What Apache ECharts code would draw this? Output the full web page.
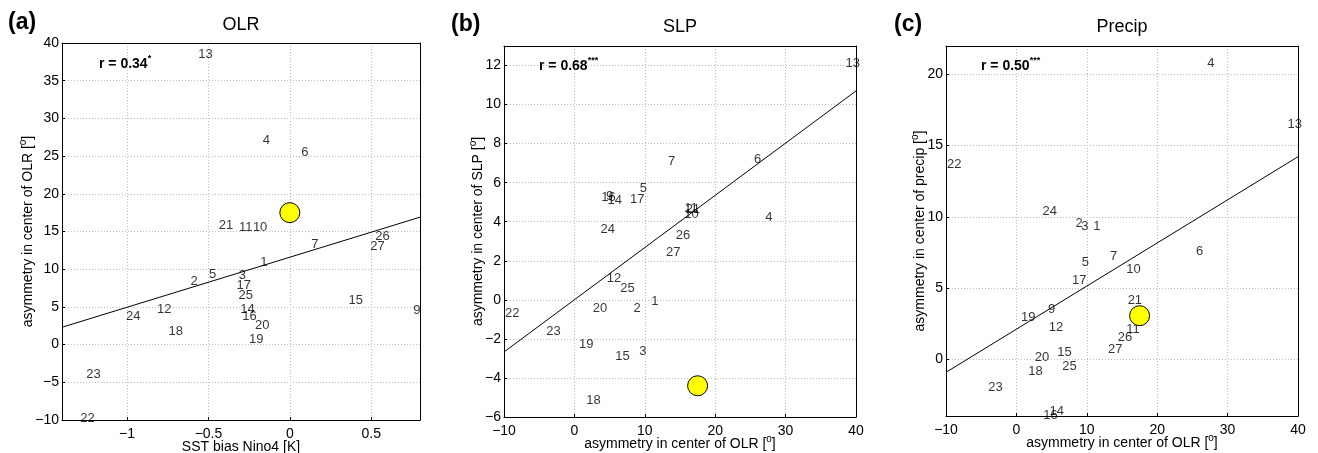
<!DOCTYPE html>
<html>
<head>
<meta charset="utf-8">
<script src="https://cdn.jsdelivr.net/npm/echarts@6/dist/echarts.min.js"></script>
<style>
  html, body { margin: 0; padding: 0; background: #fff; }
  #chart { width: 1318px; height: 453px; }
</style>
</head>
<body>
<div id="chart"></div>
<script>
// Ensemble members (there is no model 8)
const models = [1, 2, 3, 4, 5, 6, 7, 9, 10, 11, 12, 13, 14, 15, 16, 17, 18, 19, 20, 21, 22, 23, 24, 25, 26, 27];

// SST bias in the Nino4 region [K]
const sstBiasNino4 = [-0.181, -0.61, -0.314, -0.167, -0.496, 0.07, 0.131, 0.759, -0.227, -0.312, -0.816, -0.563, -0.304,
                      0.361, -0.292, -0.328, -0.745, -0.251, -0.214, -0.437, -1.288, -1.251, -1.006, -0.316, 0.525, 0.494];

// Asymmetry in the centre of OLR [deg]
const olrAsym = [10.9, 8.4, 9.2, 27.1, 9.3, 25.5, 13.3, 4.5, 15.6, 15.6, 4.6, 38.5, 4.7,
                 5.8, 3.8, 7.9, 1.7, 0.65, 2.6, 15.8, -9.85, -4.0, 3.7, 6.5, 14.4, 13.0];

// Asymmetry in the centre of SLP [deg]
const slpAsym = [-0.06, -0.42, -2.65, 4.24, 5.73, 7.2, 7.08, 5.3, 4.4, 4.7, 1.12, 12.13, 5.1,
                 -2.88, 5.24, 5.15, -5.13, -2.26, -0.42, 4.65, -0.68, -1.6, 3.62, 0.6, 3.32, 2.45];

// Asymmetry in the centre of precipitation [deg]
const precipAsym = [9.3, 9.5, 9.3, 20.8, 6.8, 7.6, 7.2, 3.5, 6.3, 2.1, 2.2, 16.5, -3.7,
                    0.5, -3.93, 5.5, -0.84, 2.95, 0.14, 4.1, 13.7, -2.0, 10.4, -0.53, 1.5, 0.66];

// Observations
const obsSst = 0.0;
const obsOlr = 17.5;
const obsSlp = -4.4;
const obsPrecip = 3.05;

// Correlation coefficients and significance marks
const corrR = ['0.34', '0.68', '0.50'];
const corrSig = ['*', '***', '***'];

// Least-squares lines, drawn across each axis range
const fitOlr = [[-1.4, 2.3], [0.8, 16.9]];
const fitSlp = [[-10, -2.67], [40, 10.7]];
const fitPrecip = [[-10, -0.93], [40, 14.22]];

// Tick values
const ticksSst = [-1, -0.5, 0, 0.5];
const ticksOlrY = [-10, -5, 0, 5, 10, 15, 20, 25, 30, 35, 40];
const ticksOlrX = [-10, 0, 10, 20, 30, 40];
const ticksSlp = [-6, -4, -2, 0, 2, 4, 6, 8, 10, 12];
const ticksPrecip = [0, 5, 10, 15, 20];

const FONT = '"Liberation Sans", Arial, Helvetica, sans-serif';
const INK = '#000';
const fmt = v => String(v).replace('-', '\u2212');
const supRich = { sup: { fontSize: 10, fontFamily: FONT, color: INK, verticalAlign: 'top' } };

const panels = [
  {
    letter: '(a)', title: 'OLR',
    grid: { left: 62, top: 43, width: 358, height: 377 },
    x: sstBiasNino4, y: olrAsym, obs: [obsSst, obsOlr], fit: fitOlr,
    xr: [-1.4, 0.8], yr: [-10, 40], xt: ticksSst, yt: ticksOlrY,
    xName: 'SST bias Nino4 [K]', yName: 'asymmetry in center of OLR [{sup|o}]', yGap: 24,
    letterPos: [8, 23], titlePos: [241, 25], rPos: [99, 64]
  },
  {
    letter: '(b)', title: 'SLP',
    grid: { left: 504, top: 46, width: 352, height: 371 },
    x: olrAsym, y: slpAsym, obs: [obsOlr, obsSlp], fit: fitSlp,
    xr: [-10, 40], yr: [-6, 13], xt: ticksOlrX, yt: ticksSlp,
    xName: 'asymmetry in center of OLR [{sup|o}]', yName: 'asymmetry in center of SLP [{sup|o}]', yGap: 16,
    letterPos: [451, 25], titlePos: [680, 27], rPos: [539, 66]
  },
  {
    letter: '(c)', title: 'Precip',
    grid: { left: 946, top: 46, width: 352, height: 370 },
    x: olrAsym, y: precipAsym, obs: [obsOlr, obsPrecip], fit: fitPrecip,
    xr: [-10, 40], yr: [-4, 22], xt: ticksOlrX, yt: ticksPrecip,
    xName: 'asymmetry in center of OLR [{sup|o}]', yName: 'asymmetry in center of precip [{sup|o}]', yGap: 16,
    letterPos: [894, 25], titlePos: [1122, 27], rPos: [981, 66]
  }
];

const grids = [], xAxes = [], yAxes = [], series = [], graphics = [];

function mainAxis(gi, pos, range, ticks, name, gap, labelMargin) {
  return {
    type: 'value', gridIndex: gi, position: pos, min: range[0], max: range[1],
    axisLine: { show: true, onZero: false, lineStyle: { color: INK, width: 1 } },
    axisTick: { show: true, inside: true, length: 3, customValues: ticks, lineStyle: { color: INK, width: 1 } },
    axisLabel: { customValues: ticks, formatter: fmt, color: INK, fontSize: 14, fontFamily: FONT, margin: labelMargin },
    splitLine: { show: true, lineStyle: { color: '#bdbdbd', width: 1, type: [1, 2] } },
    name: name, nameLocation: 'middle', nameGap: gap, nameMoveOverlap: false,
    nameTextStyle: { color: INK, fontSize: 14, fontFamily: FONT, lineHeight: 20, rich: supRich }
  };
}
function frameAxis(gi, pos, range) {
  return {
    type: 'value', gridIndex: gi, position: pos, min: range[0], max: range[1],
    axisLine: { show: true, onZero: false, lineStyle: { color: INK, width: 1 } },
    axisTick: { show: false }, axisLabel: { show: false }, splitLine: { show: false }
  };
}

panels.forEach((p, i) => {
  grids.push(Object.assign({ containLabel: false, outerBoundsMode: 'none' }, p.grid));
  xAxes.push(mainAxis(i, 'bottom', p.xr, p.xt, p.xName, 17, 7));
  xAxes.push(frameAxis(i, 'top', p.xr));
  yAxes.push(mainAxis(i, 'left', p.yr, p.yt, p.yName, p.yGap, 3));
  yAxes.push(frameAxis(i, 'right', p.yr));

  const xi = 2 * i, yi = 2 * i;

  series.push({
    type: 'line', xAxisIndex: xi, yAxisIndex: yi, data: p.fit,
    showSymbol: false, symbol: 'none', silent: true, z: 2,
    lineStyle: { color: INK, width: 1 }
  });

  series.push({
    type: 'scatter', xAxisIndex: xi, yAxisIndex: yi, z: 3, silent: true,
    symbolSize: 0, itemStyle: { color: INK },
    label: {
      show: true, position: 'right', distance: 0, formatter: d => d.name,
      color: INK, fontSize: 13, fontFamily: FONT
    },
    data: models.map((m, k) => ({ name: String(m), value: [p.x[k], p.y[k]] }))
  });

  series.push({
    type: 'scatter', xAxisIndex: xi, yAxisIndex: yi, z: 4, silent: true,
    symbolSize: 20, itemStyle: { color: '#ffff00', borderColor: INK, borderWidth: 1, opacity: 1 },
    data: [p.obs]
  });

  graphics.push({
    type: 'text', x: p.letterPos[0], y: p.letterPos[1],
    style: { text: p.letter, fill: INK, fontSize: 23, fontWeight: 'bold', fontFamily: FONT, align: 'left', verticalAlign: 'middle' }
  });
  graphics.push({
    type: 'text', x: p.titlePos[0], y: p.titlePos[1],
    style: { text: p.title, fill: INK, fontSize: 18, fontFamily: FONT, align: 'center', verticalAlign: 'middle' }
  });
  graphics.push({
    type: 'text', x: p.rPos[0], y: p.rPos[1], z: 10,
    style: {
      text: '{b|r = ' + corrR[i] + '}{s|' + corrSig[i] + '}',
      align: 'left', verticalAlign: 'middle',
      rich: {
        b: { fontSize: 14, fontWeight: 'bold', fontFamily: FONT, fill: INK, lineHeight: 20 },
        s: { fontSize: 9, fontWeight: 'bold', fontFamily: FONT, fill: INK, verticalAlign: 'top' }
      }
    }
  });
});

const chart = echarts.init(document.getElementById('chart'), null, { renderer: 'canvas' });
chart.setOption({
  animation: false,
  backgroundColor: '#fff',
  grid: grids,
  xAxis: xAxes,
  yAxis: yAxes,
  series: series,
  graphic: graphics
});
</script>
</body>
</html>
